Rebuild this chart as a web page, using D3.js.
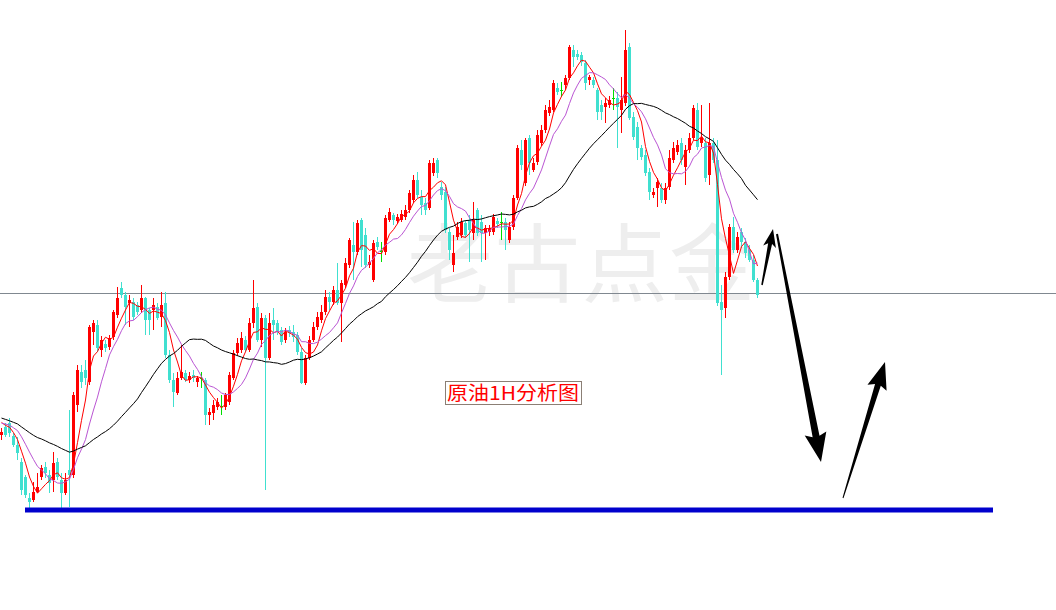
<!DOCTYPE html>
<html><head><meta charset="utf-8">
<script src="https://cdn.jsdelivr.net/npm/d3@7"></script>
<style>html,body{margin:0;padding:0;background:#fff;overflow:hidden}</style>
</head><body><svg id="chart" width="1056" height="610"></svg>
<script>
// closes before the first visible bar (needed for the moving averages)
const priorCloses = [58.05,58.08,58.02,57.95,58.00,57.90,57.85,57.88,57.80,57.75,
57.82,57.78,57.85,57.80,57.72,57.75,57.79,57.70,57.74,57.68,57.72,57.78,57.82,57.75,57.72,57.80,57.76,57.82,57.82];

const opens = [
57.65,57.73,57.77,57.64,57.55,57.38,57.23,57.02,57.00,57.08,
57.23,57.33,57.25,57.20,57.38,57.20,57.07,57.30,57.25,57.95,
58.28,58.30,58.18,58.68,58.75,58.50,58.56,58.53,58.63,58.85,
59.12,59.05,58.97,58.98,58.95,58.90,59.02,58.90,58.90,58.93,
58.83,58.97,58.45,58.20,58.07,58.22,58.27,58.20,58.25,58.18,
58.22,58.20,57.85,57.87,57.93,57.94,57.93,57.98,58.22,58.47,
58.50,58.60,58.50,58.77,58.93,58.60,58.82,58.42,58.80,58.77,
58.70,58.60,58.70,58.68,58.65,58.48,58.17,58.42,58.60,58.73,
58.80,58.88,59.03,58.98,59.10,58.97,59.15,59.35,59.55,59.48,
59.80,59.65,59.35,59.20,59.58,59.49,59.48,59.80,59.85,59.79,
59.80,59.83,59.90,60.00,60.20,60.03,59.97,59.92,60.27,60.40,
60.13,60.08,59.68,59.35,59.63,59.65,59.77,59.80,59.67,59.90,
59.78,59.67,59.68,59.68,59.79,59.78,59.78,59.60,59.73,60.02,
60.50,60.17,60.62,60.30,60.38,60.57,60.70,60.87,60.90,61.12,
61.10,61.15,61.22,61.50,61.46,61.45,61.37,61.20,61.20,61.10,
60.95,60.93,60.95,61.02,61.02,60.90,60.97,61.53,60.83,60.73,
60.52,60.45,60.28,60.05,60.12,60.12,60.00,60.13,60.40,60.48,
60.57,60.33,60.50,60.62,60.90,60.57,60.57,60.25,60.57,60.40,
58.98,58.92,59.23,59.73,59.50,59.68,59.58,59.50,59.40,59.20];

const highs = [
57.72,57.77,57.82,57.67,57.63,57.42,57.25,57.07,57.18,57.27,
57.35,57.38,57.30,57.48,57.42,57.27,57.27,57.90,58.08,58.35,
58.35,58.40,58.75,58.80,58.80,58.64,58.60,58.65,58.90,59.13,
59.18,59.08,59.05,59.02,58.98,59.15,59.03,58.92,59.02,58.97,
59.08,59.08,58.50,58.27,58.28,58.55,58.30,58.28,58.30,58.24,
58.28,58.22,57.92,58.00,58.02,58.05,58.07,58.28,58.50,58.62,
58.68,58.64,58.82,59.20,58.97,58.87,58.85,58.87,58.92,58.80,
58.73,58.72,58.74,58.75,58.68,58.52,58.45,58.64,58.78,58.88,
58.95,59.10,59.08,59.14,59.37,59.20,59.42,59.62,59.78,59.80,
59.82,59.72,59.45,59.60,59.63,59.58,59.85,59.92,59.87,59.86,
59.90,59.95,60.10,60.25,60.28,60.10,60.02,60.40,60.42,60.42,
60.18,60.13,59.72,59.65,59.78,59.82,59.80,59.85,59.98,59.92,
59.85,59.75,59.75,59.86,59.82,59.88,59.82,59.78,60.05,60.55,
60.60,60.62,60.65,60.42,60.70,60.75,60.95,61.00,61.20,61.17,
61.18,61.25,61.55,61.55,61.50,61.48,61.40,61.25,61.23,61.12,
61.00,61.02,61.04,61.12,61.08,61.23,61.70,61.57,60.88,60.78,
60.55,60.50,60.32,60.12,60.22,60.17,60.17,60.50,60.58,60.60,
60.62,60.55,60.67,60.95,60.97,60.95,60.62,60.97,60.62,60.60,
59.15,59.28,59.76,59.83,59.68,59.72,59.62,59.55,59.45,59.22];

const lows = [
57.60,57.63,57.63,57.53,57.40,57.05,57.02,56.90,56.98,57.07,
57.20,57.22,57.07,57.08,57.20,56.88,57.05,56.93,57.22,57.88,
58.12,58.15,58.15,58.55,58.48,58.43,58.48,58.50,58.60,58.82,
59.02,58.75,58.73,58.80,58.85,58.87,58.65,58.65,58.70,58.80,
58.73,58.42,58.17,57.93,58.05,58.20,58.18,58.17,58.18,58.13,
58.12,57.75,57.75,57.80,57.90,57.85,57.90,57.95,58.20,58.44,
58.47,58.48,58.48,58.72,58.58,58.53,57.10,58.40,58.60,58.65,
58.55,58.57,58.63,58.58,58.45,58.16,58.15,58.40,58.58,58.70,
58.77,58.85,58.90,58.95,58.95,58.58,59.12,59.32,59.20,59.45,
59.33,59.32,59.32,59.18,59.50,59.38,59.45,59.78,59.75,59.76,
59.78,59.80,59.87,59.97,60.02,59.85,59.85,59.90,60.24,60.22,
60.00,59.67,59.40,59.28,59.60,59.62,59.62,59.38,59.60,59.64,
59.38,59.40,59.64,59.65,59.72,59.60,59.50,59.57,59.70,60.00,
60.30,60.14,60.25,60.28,60.35,60.54,60.67,60.84,60.88,61.05,
61.03,61.10,61.20,61.33,61.40,61.34,61.10,61.15,61.12,60.80,
60.80,60.77,60.92,60.90,60.52,60.67,60.94,60.80,60.60,60.40,
60.40,60.24,60.00,60.02,59.93,59.97,59.96,60.10,60.37,60.45,
60.35,60.15,60.47,60.60,60.50,60.53,60.18,60.15,60.37,58.94,
58.25,58.82,59.20,59.47,59.47,59.52,59.42,59.38,59.18,59.02];

const closes = [
57.68,57.65,57.67,57.55,57.47,57.10,57.05,56.98,57.08,57.13,
57.32,57.27,57.17,57.37,57.23,57.07,57.20,57.25,58.05,58.30,
58.18,58.22,58.73,58.77,58.52,58.60,58.52,58.62,58.88,59.02,
59.05,58.93,59.00,58.83,58.88,59.02,58.80,58.80,58.95,58.82,
58.95,58.45,58.20,58.08,58.22,58.28,58.20,58.24,58.22,58.22,
58.22,57.85,57.88,57.95,57.98,57.94,58.05,58.25,58.47,58.57,
58.62,58.50,58.77,58.92,58.60,58.82,58.42,58.77,58.75,58.68,
58.58,58.68,58.67,58.63,58.48,58.17,58.42,58.60,58.73,58.83,
58.88,59.03,58.98,59.10,58.97,59.17,59.37,59.60,59.48,59.77,
59.50,59.35,59.38,59.57,59.53,59.49,59.82,59.88,59.80,59.83,
59.86,59.90,60.07,60.20,60.05,59.95,59.90,60.37,60.37,60.27,
60.05,59.70,59.50,59.47,59.73,59.78,59.65,59.70,59.80,59.67,
59.67,59.72,59.72,59.83,59.76,59.78,59.70,59.73,60.02,60.52,
60.35,60.60,60.37,60.37,60.65,60.70,60.90,60.93,61.17,61.08,
61.10,61.22,61.53,61.43,61.43,61.38,61.17,61.23,61.15,60.88,
60.88,60.97,61.00,61.02,60.93,61.00,61.50,60.82,60.63,60.52,
60.43,60.27,60.08,60.08,60.18,60.00,60.12,60.42,60.52,60.55,
60.40,60.50,60.62,60.92,60.53,60.62,60.22,60.57,60.40,58.97,
58.90,59.23,59.73,59.50,59.63,59.58,59.47,59.40,59.20,59.05];

const maPeriods = [5, 10, 30];
const maColors = ["#ff0000", "#ba55d3", "#000000"];

const refLinePrice = 59.07;          // thin grey horizontal line
const supportPrice = 56.90;          // thick blue line
const supportSpan = [6, 248];        // bar index range of the blue line
const labelText = "原油1H分析图";
const labelAt = [111, 57.95];        // bar index, price (bottom-left of box)
const watermarkText = "老古点金";
const watermarkAt = [101.5, 59.04];
// annotation arrows: [bar index, price] tail -> tip
const arrowTails = [[190.25, 59.15], [194, 59.66], [210.5, 57.02]];
const arrowTips  = [[193, 59.71], [205, 57.38], [221, 58.38]];
const arrowHeadLen = [15, 26, 24];
const arrowHeadWid = [13, 22, 20];
const arrowShaft = [[1.5, 4], [2, 7], [1, 6]];

const W = 1056, H = 610;
const svg = d3.select("#chart");
const x = d3.scaleLinear().domain([0, closes.length - 1]).range([1, 757]);
const y = d3.scaleLinear().domain([55.90, 62.00]).range([H, 0]);

svg.append("rect").attr("width", W).attr("height", H).attr("fill", "#fff");

// watermark
svg.append("text")
  .attr("x", x(watermarkAt[0])).attr("y", y(watermarkAt[1]))
  .attr("font-family", "'Noto Sans CJK SC', sans-serif")
  .attr("font-weight", 400)
  .attr("font-size", 86)
  .attr("fill", "#eeeeee")
  .attr("textLength", 348).attr("lengthAdjust", "spacing")
  .text(watermarkText);

// reference grey line
svg.append("line")
  .attr("x1", 0).attr("x2", W)
  .attr("y1", Math.round(y(refLinePrice)) + 0.5).attr("y2", Math.round(y(refLinePrice)) + 0.5)
  .attr("stroke", "#808890").attr("stroke-width", 1);

// candles
const bars = closes.map((c, i) => ({ i, o: opens[i], h: highs[i], l: lows[i], c }));
const g = svg.append("g").attr("shape-rendering", "crispEdges");
bars.forEach(d => {
  const cx = Math.round(x(d.i));
  const doji = d.o === d.c;
  const col = doji ? "#00dd00" : (d.c > d.o ? "#ff0000" : "#40e0d0");
  g.append("line")
    .attr("x1", cx + 0.5).attr("x2", cx + 0.5)
    .attr("y1", Math.round(y(d.h))).attr("y2", Math.round(y(d.l)))
    .attr("stroke", col).attr("stroke-width", 1);
  const top = Math.round(y(Math.max(d.o, d.c)));
  const bot = Math.round(y(Math.min(d.o, d.c)));
  g.append("rect")
    .attr("x", cx - 1).attr("y", top)
    .attr("width", 3).attr("height", Math.max(1, bot - top))
    .attr("fill", col);
});

// moving averages
const all = priorCloses.concat(closes);
const off = priorCloses.length;
maPeriods.forEach((p, k) => {
  const pts = closes.map((c, i) => {
    const s = all.slice(off + i - p + 1, off + i + 1);
    return { i, v: d3.mean(s) };
  });
  svg.append("path")
    .attr("d", d3.line().x(d => x(d.i) + 0.5).y(d => y(d.v))(pts))
    .attr("fill", "none").attr("stroke", maColors[k]).attr("stroke-width", 1);
});

// blue support line
svg.append("line")
  .attr("x1", x(supportSpan[0])).attr("x2", x(supportSpan[1]))
  .attr("y1", y(supportPrice)).attr("y2", y(supportPrice))
  .attr("stroke", "#0000cd").attr("stroke-width", 5);

// label box
const lx = x(labelAt[0]), ly = y(labelAt[1]);
svg.append("rect")
  .attr("x", lx + 0.5).attr("y", ly - 23.5).attr("width", 136).attr("height", 23)
  .attr("fill", "#fff").attr("stroke", "#8b7f75").attr("stroke-width", 1);
svg.append("text")
  .attr("x", lx + 2).attr("y", ly - 5)
  .attr("font-family", "'Noto Sans CJK SC', sans-serif")
  .attr("font-size", 19).attr("fill", "#ff0000")
  .attr("textLength", 132).attr("lengthAdjust", "spacingAndGlyphs")
  .text(labelText);

// arrows
arrowTails.forEach((t, k) => {
  const x0 = x(t[0]), y0 = y(t[1]);
  const x1 = x(arrowTips[k][0]), y1 = y(arrowTips[k][1]);
  const dx = x1 - x0, dy = y1 - y0, L = Math.hypot(dx, dy);
  const ux = dx / L, uy = dy / L, nx = -uy, ny = ux;
  const hl = arrowHeadLen[k], hw = arrowHeadWid[k] / 2;
  const w0 = arrowShaft[k][0] / 2, w1 = arrowShaft[k][1] / 2;
  const bx = x1 - ux * hl, by = y1 - uy * hl;
  const pts = [
    [x0 + nx * w0, y0 + ny * w0],
    [bx + nx * w1, by + ny * w1],
    [bx + nx * hw - ux * 3, by + ny * hw - uy * 3],
    [x1, y1],
    [bx - nx * hw - ux * 3, by - ny * hw - uy * 3],
    [bx - nx * w1, by - ny * w1],
    [x0 - nx * w0, y0 - ny * w0]
  ];
  svg.append("path").attr("d", d3.line()(pts) + "Z").attr("fill", "#000");
});
</script>
</body></html>
